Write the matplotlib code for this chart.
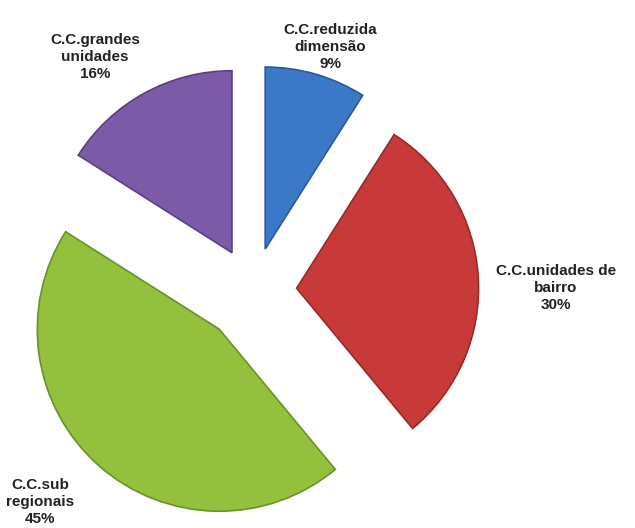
import matplotlib.pyplot as plt

nomes = ['C.C.reduzida\ndimensão', 'C.C.unidades de\nbairro', 'C.C.sub\nregionais', 'C.C.grandes\nunidades']
percentagens = [9, 30, 45, 16]
cores = ['#3b78c8', '#c83a3a', '#93c03d', '#7b5aa8']
bordas = ['#2a5a9a', '#962a2a', '#6a9228', '#5a4080']
explosao = [0.24, 0.24, 0.28, 0.24]

raio = 182
fig = plt.figure(figsize=(6.35, 5.28), dpi=100)
ax = fig.add_axes([0, 0, 1, 1])

# explode em matplotlib nao e escalado pelo raio
ax.pie(percentagens, colors=cores, startangle=90, counterclock=False,
       explode=[e * raio for e in explosao], center=(253, 237), radius=raio,
       wedgeprops=dict(linewidth=1.2), frame=True)
for w, b in zip(ax.patches, bordas):
    w.set_edgecolor(b)

# posicoes dos rotulos (pixels)
pos = [(330, 481), (556, 240), (40, 26), (95, 471)]
for nome, p, (x, y) in zip(nomes, percentagens, pos):
    ax.text(x, y, nome + '\n' + str(p) + '%', ha='center', va='center',
            fontsize=11, fontweight='bold', color='#222222',
            family='Liberation Sans', linespacing=1.3)

ax.set_xlim(0, 635)
ax.set_ylim(0, 528)
ax.set_aspect('equal')
ax.axis('off')

fig.savefig('out.png', dpi=100)
